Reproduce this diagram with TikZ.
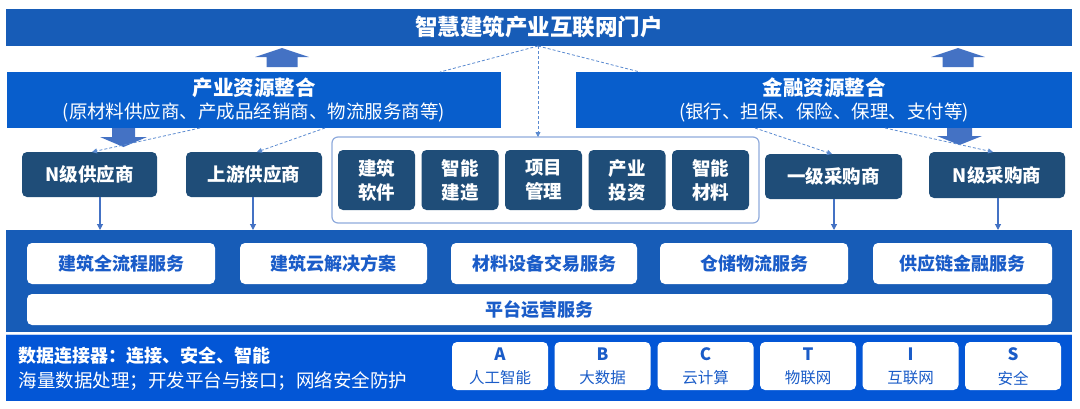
\documentclass[tikz,border=0pt]{standalone}
\usepackage{fontspec}
\setmainfont{Noto Sans CJK SC}
\usetikzlibrary{calc,arrows.meta}
\definecolor{bannerc}{HTML}{175CB7}
\definecolor{indc}{HTML}{085ECC}
\definecolor{navyc}{HTML}{1F4D78}
\definecolor{panelc}{HTML}{175CB7}
\definecolor{botc}{HTML}{0356D6}
\definecolor{arrowc}{HTML}{4472C4}
\definecolor{dashc}{HTML}{5A8AD0}
\definecolor{framec}{HTML}{8FAADC}
\definecolor{svtext}{HTML}{1A5CC8}
\tikzset{
  box/.style={inner sep=0pt, outer sep=0pt, draw=none},
  bluebox/.style={box, fill=#1},
  navybox/.style={box, fill=navyc, rounded corners=5pt, text=white, font=\fontsize{18.5}{24}\selectfont\bfseries, align=center},
  svbox/.style={box, fill=white, rounded corners=5pt, text=svtext, font=\fontsize{18}{22}\selectfont\bfseries},
  techbox/.style={box, fill=white, rounded corners=5pt, minimum width=96pt, minimum height=48pt},
  dashln/.style={draw=dashc, line width=0.8pt, dash pattern=on 3pt off 2pt},
  dasharr/.style={dashln, -{Triangle[length=5pt,width=5pt]}},
  solarr/.style={draw=arrowc, line width=1.1pt, -{Triangle[length=6pt,width=6pt]}},
  blockarr/.style={fill=arrowc},
}
\begin{document}
\begin{tikzpicture}[x=1pt,y=-1pt]
\useasboundingbox (0,0) rectangle (1080,408);
% top banner
\node[bluebox=bannerc, minimum width=1066pt, minimum height=37pt] (banner) at (539,27.5) {};
\node[text=white, font=\fontsize{22.5}{26}\selectfont\bfseries] (title) at (539,27) {智慧建筑产业互联网门户};
% resource boxes
\node[bluebox=indc, minimum width=494pt, minimum height=56pt] (ind) at (254,100) {};
\node[text=white, font=\fontsize{20.5}{24}\selectfont\bfseries] (indt) at (254,88) {产业资源整合};
\node[text=white, font=\fontsize{18.5}{22}\selectfont] (inds) at (254,112) {(原材料供应商、产成品经销商、物流服务商等)};
\node[bluebox=indc, minimum width=496pt, minimum height=56pt] (fin) at (824,100) {};
\node[text=white, font=\fontsize{20.5}{24}\selectfont\bfseries] (fint) at (824,88) {金融资源整合};
\node[text=white, font=\fontsize{18.5}{22}\selectfont] (fins) at (824,112) {(银行、担保、保险、保理、支付等)};
% block arrows
\fill[blockarr] (282,48) -- (309,57) -- (297.5,57) -- (297.5,67) -- (266.5,67) -- (266.5,57) -- (255,57) -- cycle;
\fill[blockarr] (958,48) -- (985,57) -- (973.5,57) -- (973.5,67) -- (942.5,67) -- (942.5,57) -- (931,57) -- cycle;
\fill[blockarr] (112,128) -- (135,128) -- (135,137) -- (147,137) -- (123.5,147) -- (100,137) -- (112,137) -- cycle;
\fill[blockarr] (947,128) -- (972,128) -- (972,136) -- (982,136) -- (959.5,145) -- (937,136) -- (947,136) -- cycle;
% supplier / buyer nodes
\node[navybox, minimum width=135pt, minimum height=45pt] (NS) at (89.5,174.5) {N级供应商};
\node[navybox, minimum width=136pt, minimum height=45pt] (SS) at (254,174.5) {上游供应商};
\node[navybox, minimum width=137pt, minimum height=45pt] (OB) at (833.5,176.5) {一级采购商};
\node[navybox, minimum width=136pt, minimum height=46pt] (NB) at (997,175) {N级采购商};
% middle container
\node[box, draw=framec, line width=1.2pt, rounded corners=6pt, minimum width=427pt, minimum height=86pt] (cont) at (545.5,180) {};
\node[navybox, minimum width=77pt, minimum height=60pt] (m1) at (376.5,180) {建筑\\软件};
\node[navybox, minimum width=77pt, minimum height=60pt] (m2) at (460,180) {智能\\建造};
\node[navybox, minimum width=77pt, minimum height=60pt] (m3) at (543.5,180) {项目\\管理};
\node[navybox, minimum width=77pt, minimum height=60pt] (m4) at (627,180) {产业\\投资};
\node[navybox, minimum width=77pt, minimum height=60pt] (m5) at (710.5,180) {智能\\材料};
% platform panel
\node[bluebox=panelc, minimum width=1066pt, minimum height=102pt] (plat) at (539,281) {};
\node[svbox, minimum width=188pt, minimum height=41pt] (s1) at (121,263.5) {建筑全流程服务};
\node[svbox, minimum width=187pt, minimum height=41pt] (s2) at (333.5,263.5) {建筑云解决方案};
\node[svbox, minimum width=186pt, minimum height=41pt] (s3) at (544,263.5) {材料设备交易服务};
\node[svbox, minimum width=188pt, minimum height=41pt] (s4) at (754,263.5) {仓储物流服务};
\node[svbox, minimum width=179pt, minimum height=41pt] (s5) at (962.5,263.5) {供应链金融服务};
\node[svbox, minimum width=1025pt, minimum height=31pt] (ops) at (539.5,309.5) {平台运营服务};
% bottom panel
\node[bluebox=botc, minimum width=1066pt, minimum height=67pt] (bot) at (539,367.5) {};
\draw[white!75!botc, line width=1pt] (bot.north west) -- (bot.north east);
\node[anchor=west, text=white, font=\fontsize{18}{22}\selectfont\bfseries] (dc1) at (15,356) {数据连接器：连接、安全、智能};
\node[anchor=west, text=white, font=\fontsize{18.5}{22}\selectfont] (dc2) at (15,381) {海量数据处理；开发平台与接口；网络安全防护};
\foreach \n/\cx/\L/\T in {tA/500/A/人工智能, tB/602.5/B/大数据, tC/705.5/C/云计算, tT/808/T/物联网, tI/910.5/I/互联网, tS/1013/S/安全}{
  \node[techbox] (\n) at (\cx,366) {};
  \node[text=svtext, font=\fontsize{17}{20}\selectfont\bfseries] (\n l) at (\cx,354) {\L};
  \node[text=svtext, font=\fontsize{15.5}{18}\selectfont] (\n t) at (\cx,378) {\T};
}
% dashed connectors
\coordinate (apex) at ($(banner.south)+(-1,0)$);
\draw[dashln] (apex) -- ($(ind.north west)+(433,0)$);
\draw[dashln] (apex) -- ($(fin.north west)+(64,0)$);
\draw[dasharr] (apex) -- (apex |- cont.north);
\draw[dasharr] ($(ind.south west)+(193,0)$) -- ($(NS.north west)+(70,0)$);
\draw[dasharr] ($(ind.south west)+(318,0)$) -- ($(SS.north west)+(71,0)$);
\draw[dasharr] ($(fin.south west)+(179,0)$) -- ($(OB.north west)+(67,0)$);
\draw[dasharr] ($(fin.south west)+(309,0)$) -- ($(NB.north west)+(64,0)$);
% solid down arrows
\coordinate (aNS) at ($(NS.south west)+(78,0)$);
\coordinate (aSS) at ($(SS.south west)+(67,0)$);
\coordinate (aOB) at ($(OB.south west)+(69,0)$);
\coordinate (aNB) at ($(NB.south west)+(69,0)$);
\draw[solarr] (aNS) -- (aNS |- plat.north);
\draw[solarr] (aSS) -- (aSS |- plat.north);
\draw[solarr] (aOB) -- (aOB |- plat.north);
\draw[solarr] (aNB) -- (aNB |- plat.north);
\end{tikzpicture}
\end{document}
